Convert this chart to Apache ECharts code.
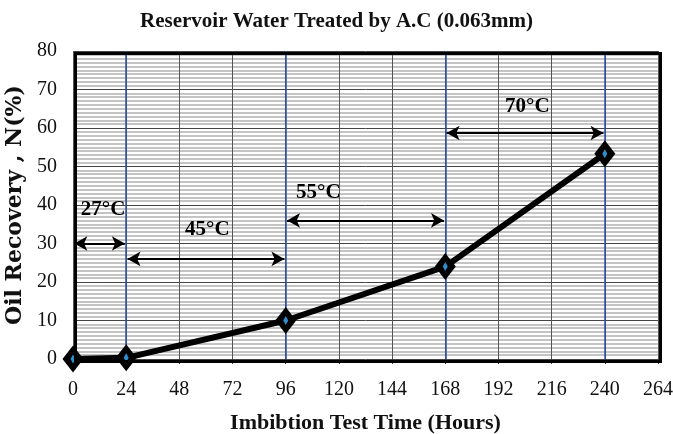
<!DOCTYPE html>
<html><head><meta charset="utf-8">
<script src="https://cdn.jsdelivr.net/npm/echarts@6/dist/echarts.min.js"></script>
<style>html,body{margin:0;padding:0;background:#fff;overflow:hidden}#c{width:673px;height:434px}</style>
</head><body><div id="c"></div>
<script>
const hours = [0, 24, 96, 168, 240];
const recovery = [0, 0.3, 10, 24, 53.3];
const xTicks = [0, 24, 48, 72, 96, 120, 144, 168, 192, 216, 240, 264];
const blueLines = [24, 96, 168, 240];
const tempLabels = ['27°C', '45°C', '55°C', '70°C'];
const arrowFrom = [0, 24, 96, 168];
const arrowTo = [24, 96, 168, 240];
const arrowY = [30, 26, 36, 58.7];
const labelX = [13.6, 60.6, 110.7, 205];
const labelY = [35.9, 30.8, 40.4, 62.8];

const serif = 'Liberation Serif';
const chart = echarts.init(document.getElementById('c'));

const arrowLines = arrowFrom.map((f, i) => [
  {coord: [f + 0.6, arrowY[i]]},
  {coord: [arrowTo[i] - 0.6, arrowY[i]]}
]);

chart.setOption({
  animation: false,
  title: {text: 'Reservoir Water Treated by A.C (0.063mm)', left: 'center', top: 6,
    textStyle: {fontFamily: serif, fontWeight: 'bold', fontSize: 21, color: '#111'}},
  grid: {left: 73, right: 15, top: 51, bottom: 75, containLabel: false, outerBoundsMode: 'none'},
  xAxis: {
    type: 'value', min: 0, max: 264, interval: 24,
    name: 'Imbibtion Test Time (Hours)', nameLocation: 'middle', nameGap: 53,
    nameTextStyle: {fontFamily: serif, fontWeight: 'bold', fontSize: 22, color: '#111'},
    axisLine: {show: false},
    axisTick: {show: true, length: 5, lineStyle: {color: '#333'}},
    axisLabel: {fontFamily: serif, fontSize: 20, color: '#111', margin: 21},
    splitLine: {show: true, lineStyle: {color: '#555', width: 1}}
  },
  yAxis: {
    type: 'value', min: 0, max: 80, interval: 10,
    name: 'Oil Recovery , N(%)', nameLocation: 'middle', nameGap: 42,
    nameTextStyle: {fontFamily: 'DejaVu Serif', fontWeight: 'bold', fontSize: 22, color: '#111'},
    axisLine: {show: false},
    axisTick: {show: false},
    axisLabel: {fontFamily: serif, fontSize: 20, color: '#111', margin: 16},
    splitLine: {show: true, lineStyle: {color: '#444', width: 1}},
    minorTick: {show: false, splitNumber: 10},
    minorSplitLine: {show: true, lineStyle: {color: '#b0b0b0', width: 1.6}}
  },
  graphic: [{
    type: 'rect', left: 73, top: 51, shape: {width: 585, height: 308},
    style: {fill: 'none', stroke: '#000', lineWidth: 3}, z: 10, silent: true
  }],
  series: [
    {
      type: 'line', data: [], silent: true, z: 3,
      markLine: {
        silent: true, symbol: 'none', label: {show: false},
        lineStyle: {color: '#2a4fb0', width: 1.5, type: 'solid'},
        data: blueLines.map(v => ({xAxis: v}))
      }
    },
    {
      type: 'line', data: [], silent: true,
      markLine: {
        silent: true, symbol: ['arrow', 'arrow'], symbolSize: [11, 13],
        label: {show: false},
        lineStyle: {color: '#000', width: 2, type: 'solid'},
        data: arrowLines
      }
    },
    {
      type: 'scatter', symbolSize: 1, silent: true,
      itemStyle: {color: 'rgba(0,0,0,0)', opacity: 1},
      data: labelX.map((x, i) => [x, labelY[i], tempLabels[i]]),
      label: {show: true, position: 'top', distance: 0, formatter: p => p.data[2],
        fontFamily: serif, fontWeight: 'bold', fontSize: 21, color: '#000', opacity: 1}
    },
    {
      type: 'line', data: hours.map((h, i) => [h, recovery[i]]),
      lineStyle: {color: '#000', width: 6}, z: 5,
      symbol: 'diamond', symbolSize: [21, 27], showSymbol: true,
      itemStyle: {color: '#000'}
    },
    {
      type: 'scatter', data: hours.map((h, i) => [h, recovery[i]]), z: 6,
      symbol: 'diamond', symbolSize: [5, 9], itemStyle: {color: '#2e8fd0', opacity: 1}
    }
  ]
});
</script></body></html>
